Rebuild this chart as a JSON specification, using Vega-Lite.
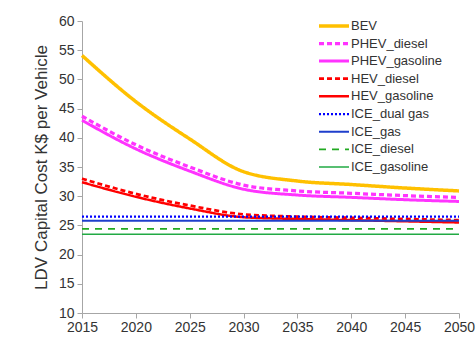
{
  "$schema": "https://vega.github.io/schema/vega-lite/v6.json",
  "width": 377,
  "height": 292,
  "autosize": {"type": "none"},
  "padding": {"left": 82, "top": 21, "right": 17, "bottom": 24},
  "background": "white",
  "config": {
    "view": {"stroke": null},
    "font": "Liberation Sans",
    "axis": {"grid": false, "domainColor": "#a6a6a6", "tickColor": "#a6a6a6", "labelColor": "#333333", "titleColor": "#333333", "labelFont": "Liberation Sans", "titleFont": "Liberation Sans"}
  },
  "data": {
    "values": [
      {"year": 2015, "series": "BEV", "cost": 54.1},
      {"year": 2020, "series": "BEV", "cost": 46.2},
      {"year": 2025, "series": "BEV", "cost": 39.8},
      {"year": 2030, "series": "BEV", "cost": 34.2},
      {"year": 2035, "series": "BEV", "cost": 32.6},
      {"year": 2040, "series": "BEV", "cost": 32.0},
      {"year": 2045, "series": "BEV", "cost": 31.4},
      {"year": 2050, "series": "BEV", "cost": 30.9},
      {"year": 2015, "series": "PHEV_diesel", "cost": 43.7},
      {"year": 2020, "series": "PHEV_diesel", "cost": 38.8},
      {"year": 2025, "series": "PHEV_diesel", "cost": 35.0},
      {"year": 2030, "series": "PHEV_diesel", "cost": 31.9},
      {"year": 2035, "series": "PHEV_diesel", "cost": 30.9},
      {"year": 2040, "series": "PHEV_diesel", "cost": 30.5},
      {"year": 2045, "series": "PHEV_diesel", "cost": 30.1},
      {"year": 2050, "series": "PHEV_diesel", "cost": 29.8},
      {"year": 2015, "series": "PHEV_gasoline", "cost": 43.0},
      {"year": 2020, "series": "PHEV_gasoline", "cost": 38.1},
      {"year": 2025, "series": "PHEV_gasoline", "cost": 34.3},
      {"year": 2030, "series": "PHEV_gasoline", "cost": 31.2},
      {"year": 2035, "series": "PHEV_gasoline", "cost": 30.2},
      {"year": 2040, "series": "PHEV_gasoline", "cost": 29.8},
      {"year": 2045, "series": "PHEV_gasoline", "cost": 29.4},
      {"year": 2050, "series": "PHEV_gasoline", "cost": 29.1},
      {"year": 2015, "series": "HEV_diesel", "cost": 33.0},
      {"year": 2020, "series": "HEV_diesel", "cost": 30.4},
      {"year": 2025, "series": "HEV_diesel", "cost": 28.4},
      {"year": 2030, "series": "HEV_diesel", "cost": 26.9},
      {"year": 2035, "series": "HEV_diesel", "cost": 26.5},
      {"year": 2040, "series": "HEV_diesel", "cost": 26.3},
      {"year": 2045, "series": "HEV_diesel", "cost": 26.1},
      {"year": 2050, "series": "HEV_diesel", "cost": 25.9},
      {"year": 2015, "series": "HEV_gasoline", "cost": 32.4},
      {"year": 2020, "series": "HEV_gasoline", "cost": 29.9},
      {"year": 2025, "series": "HEV_gasoline", "cost": 27.9},
      {"year": 2030, "series": "HEV_gasoline", "cost": 26.4},
      {"year": 2035, "series": "HEV_gasoline", "cost": 26.1},
      {"year": 2040, "series": "HEV_gasoline", "cost": 25.9},
      {"year": 2045, "series": "HEV_gasoline", "cost": 25.7},
      {"year": 2050, "series": "HEV_gasoline", "cost": 25.5},
      {"year": 2015, "series": "ICE_dual gas", "cost": 26.5},
      {"year": 2050, "series": "ICE_dual gas", "cost": 26.5},
      {"year": 2015, "series": "ICE_gas", "cost": 25.8},
      {"year": 2050, "series": "ICE_gas", "cost": 25.8},
      {"year": 2015, "series": "ICE_diesel", "cost": 24.4},
      {"year": 2050, "series": "ICE_diesel", "cost": 24.4},
      {"year": 2015, "series": "ICE_gasoline", "cost": 23.5},
      {"year": 2050, "series": "ICE_gasoline", "cost": 23.5}
    ]
  },
  "mark": {"type": "line", "interpolate": "monotone"},
  "encoding": {
    "x": {
      "field": "year", "type": "quantitative",
      "scale": {"domain": [2015, 2050], "nice": false, "zero": false},
      "axis": {"values": [2015, 2020, 2025, 2030, 2035, 2040, 2045, 2050], "format": "d", "title": null, "labelFontSize": 14, "tickSize": 5, "labelPadding": 2, "labelFlush": false}
    },
    "y": {
      "field": "cost", "type": "quantitative",
      "scale": {"domain": [10, 60], "nice": false, "zero": false},
      "axis": {"values": [10, 15, 20, 25, 30, 35, 40, 45, 50, 55, 60], "title": "LDV Capital Cost K$ per Vehicle", "titleFontSize": 17, "titleFontWeight": "normal", "labelFontSize": 14, "tickSize": 5, "labelPadding": 3, "titlePadding": 8}
    },
    "color": {
      "field": "series", "type": "nominal",
      "scale": {
        "domain": ["BEV", "PHEV_diesel", "PHEV_gasoline", "HEV_diesel", "HEV_gasoline", "ICE_dual gas", "ICE_gas", "ICE_diesel", "ICE_gasoline"],
        "range": ["#FFC000", "#FF33FF", "#FF33FF", "#FF0000", "#FF0000", "#0000FF", "#1F3FCC", "#22AA22", "#22AA44"]
      },
      "legend": {
        "orient": "none", "legendX": 245, "legendY": -2, "title": null,
        "symbolType": "M-3,0H3", "symbolSize": 100,
        "labelFontSize": 13, "labelColor": "#333333", "labelOffset": 10, "rowPadding": 3.7,
        "labelFont": "Liberation Sans"
      }
    },
    "strokeDash": {
      "field": "series", "type": "nominal",
      "scale": {
        "domain": ["BEV", "PHEV_diesel", "PHEV_gasoline", "HEV_diesel", "HEV_gasoline", "ICE_dual gas", "ICE_gas", "ICE_diesel", "ICE_gasoline"],
        "range": [[1, 0], [5, 3], [1, 0], [5, 3], [1, 0], [2, 2], [1, 0], [7, 6], [1, 0]]
      }
    },
    "strokeWidth": {
      "field": "series", "type": "nominal",
      "scale": {
        "domain": ["BEV", "PHEV_diesel", "PHEV_gasoline", "HEV_diesel", "HEV_gasoline", "ICE_dual gas", "ICE_gas", "ICE_diesel", "ICE_gasoline"],
        "range": [3.5, 1.5, 1.5, 1.5, 1.5, 2, 1.5, 1.5, 1.5]
      }
    }
  }
}
